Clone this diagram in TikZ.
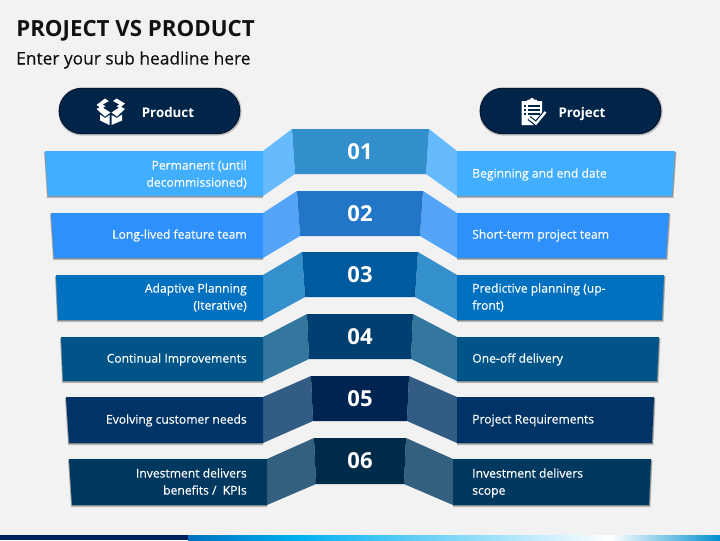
\documentclass[tikz,border=0pt]{standalone}
\usepackage{fontspec}
\setmainfont{Open Sans}
\newfontfamily\semifont[FakeBold=0.25]{Open Sans}
\definecolor{bgc}{HTML}{F2F2F2}
\definecolor{pillc}{HTML}{002549}
\definecolor{pilld}{HTML}{001830}
\definecolor{titlec}{HTML}{111111}
\definecolor{band1}{HTML}{41AEFF}\definecolor{side1}{HTML}{66BBFF}\definecolor{cen1}{HTML}{338ECC}
\definecolor{band2}{HTML}{2E90FA}\definecolor{side2}{HTML}{54A5FA}\definecolor{cen2}{HTML}{2176C8}
\definecolor{band3}{HTML}{0070C0}\definecolor{side3}{HTML}{3390CC}\definecolor{cen3}{HTML}{005A9E}
\definecolor{band4}{HTML}{005488}\definecolor{side4}{HTML}{33779F}\definecolor{cen4}{HTML}{003F6F}
\definecolor{band5}{HTML}{003366}\definecolor{side5}{HTML}{335C85}\definecolor{cen5}{HTML}{002451}
\definecolor{band6}{HTML}{00385F}\definecolor{side6}{HTML}{33607F}\definecolor{cen6}{HTML}{002A4A}
\tikzset{
  bandtext/.style={text=white,font=\fontsize{9.1pt}{12.8pt}\semifont,inner sep=0pt},
  numtext/.style={text=white,font=\fontsize{16.5pt}{18pt}\selectfont\bfseries,inner sep=0pt},
  pill/.style={fill=pillc,draw=pilld,line width=0.8pt,rounded corners=17pt,minimum width=135.5pt,minimum height=34pt,inner sep=0pt},
  pilltext/.style={text=white,font=\fontsize{10pt}{12pt}\selectfont\bfseries,inner sep=0pt},
  softshadow/.style={fill=black,opacity=0.22,draw=none},
  icon/.style={fill=white,draw=none},
  iconcut/.style={draw=pillc,line width=0.8pt}
}
\begin{document}
\begin{tikzpicture}[x=0.75pt,y=-0.75pt]
\useasboundingbox (0,0) rectangle (720,540);
\fill[bgc] (0,0) rectangle (720,540);
% footer bar
\fill[color={rgb,255:red,0;green,31;blue,96}] (0,535) rectangle (188,540);
\shade[left color={rgb,255:red,0;green,112;blue,192},right color={rgb,255:red,0;green,176;blue,240},draw=none] (188,535) rectangle (298,540);
\shade[left color={rgb,255:red,0;green,176;blue,240},right color=white,draw=none] (298,535) rectangle (610,540);
\shade[left color=white,right color={rgb,255:red,0;green,144;blue,208},draw=none] (610,535) rectangle (720,540);
% title
\node[anchor=west,inner sep=0pt,text=titlec,font=\fontsize{16.7pt}{20pt}\selectfont\bfseries] (title) at (16,30.5) {PROJECT VS PRODUCT};
\node[anchor=west,inner sep=0pt,text=titlec,font=\fontsize{13pt}{15pt}\semifont] (subtitle) at (16,60) {Enter your sub headline here};
% rows
\foreach \n/\ct/\cb/\ctl/\cbl/\ctr/\cbr/\bt/\bb/\ltl/\lbl/\ix/\rtr/\rbr in {
 1/129/174/292/295/429/426/151/196/45/48/263/675/672,
 2/191/236/297/300/423/420/213/258/51/54/263/669/666,
 3/252/297/302/305/418/415/275/320/56/58/263/664/662,
 4/314/359/307/309/413/411/337/381/61/63/263/659/657,
 5/376/421/311/313/409/407/397/443/66/69/263/654/652,
 6/438/484/314/316/406/404/459/505/69/72/267/651/649}
{
  \pgfmathsetmacro{\jx}{720-\ix}
  \fill[softshadow] (\ltl-1,\bt+1) -- (\ix,\bt+1) -- (\ix,\bb+2) -- (\lbl-1,\bb+2) -- cycle;
  \fill[softshadow] (\ltl-0.5,\bt+1) -- (\ix,\bt+1) -- (\ix,\bb+1) -- (\lbl-0.5,\bb+1) -- cycle;
  \fill[softshadow] (\jx,\bt+1) -- (\rtr+1.5,\bt+1) -- (\rbr+1.5,\bb+2) -- (\jx,\bb+2) -- cycle;
  \fill[softshadow] (\jx,\bt+1) -- (\rtr+0.8,\bt+1) -- (\rbr+0.8,\bb+1) -- (\jx,\bb+1) -- cycle;
  \fill[side\n] (\ix,\bt) -- (\ctl,\ct) -- (\cbl,\cb) -- (\ix,\bb) -- cycle;
  \fill[side\n] (\jx,\bt) -- (\ctr,\ct) -- (\cbr,\cb) -- (\jx,\bb) -- cycle;
  \fill[band\n] (\ltl,\bt) -- (\ix,\bt) -- (\ix,\bb) -- (\lbl,\bb) -- cycle;
  \fill[band\n] (\jx,\bt) -- (\rtr,\bt) -- (\rbr,\bb) -- (\jx,\bb) -- cycle;
  \fill[cen\n] (\ctl,\ct) -- (\ctr,\ct) -- (\cbr,\cb) -- (\cbl,\cb) -- cycle;
  \node[numtext] (num\n) at (360,{(\ct+\cb)/2}) {0\n};
}
% left labels
\node[bandtext,anchor=east,align=right] (l1) at (247,174.5) {Permanent (until\\decommissioned)};
\node[bandtext,anchor=east,align=right] (l2) at (247,235.5) {Long-lived feature team};
\node[bandtext,anchor=east,align=right] (l3) at (247,297.5) {Adaptive Planning\\(Iterative)};
\node[bandtext,anchor=east,align=right] (l4) at (247,359.5) {Continual Improvements};
\node[bandtext,anchor=east,align=right] (l5) at (247,420.5) {Evolving customer needs};
\node[bandtext,anchor=east,align=right] (l6) at (247,481.5) {Investment delivers\\benefits /\ \ KPIs};
% right labels
\node[bandtext,anchor=west,align=left] (r1) at (472,174.5) {Beginning and end date};
\node[bandtext,anchor=west,align=left] (r2) at (472,235.5) {Short-term project team};
\node[bandtext,anchor=west,align=left] (r3) at (472,297.5) {Predictive planning (up-\\front)};
\node[bandtext,anchor=west,align=left] (r4) at (472,359.5) {One-off delivery};
\node[bandtext,anchor=west,align=left] (r5) at (472,420.5) {Project Requirements};
\node[bandtext,anchor=west,align=left] (r6) at (472,483) {Investment delivers\\scope};
% pills
\fill[black,opacity=0.2,rounded corners=17pt] (58.5,87.5) rectangle (241.5,135.5);
\fill[black,opacity=0.2,rounded corners=17pt] (479.5,87.5) rectangle (662.5,135.5);
\node[pill] (prodpill) at (149.5,111) {};
\node[pill] (projpill) at (570.5,111) {};
\node[pilltext] (prodtext) at (168,112) {Product};
\node[pilltext] (projtext) at (582,114) {Project};
% box icon
\fill[icon] (96.5,105) -- (105,98.5) -- (111,102.5) -- (102,108.5) -- cycle;
\fill[icon] (125,103.5) -- (116.5,98.5) -- (111,102.5) -- (119.5,108) -- cycle;
\fill[icon] (96.5,109) -- (101,106.5) -- (110.5,112.5) -- (105,116.5) -- cycle;
\fill[icon] (125,109) -- (120.5,106.5) -- (111.5,112.5) -- (117,116.5) -- cycle;
\fill[icon] (100,114.5) -- (105,118) -- (109.5,115) -- (109.5,125) -- (100,120.5) -- cycle;
\fill[icon] (122,114.5) -- (117,118) -- (111.5,115) -- (111.5,125) -- (122,120.5) -- cycle;
\fill[pillc] (103,104.5) -- (111,100) -- (119,104.5) -- (111,109.5) -- cycle;
% clipboard icon
\fill[icon] (521.5,101) -- (542,101) -- (542,118) -- (534,125) -- (521.5,125) -- cycle;
\fill[icon] (526.5,101) -- (528,99.5) -- (530,99.5) -- (531,98) -- (533,98) -- (534,99.5) -- (536,99.5) -- (537.5,101) -- (537.5,103.5) -- (526.5,103.5) -- cycle;
\foreach \yy in {106,110,114}{
  \draw[iconcut] (524,\yy) -- (526,\yy);
  \draw[iconcut] (527.5,\yy) -- (539.5,\yy);
}
\draw[pillc,line width=3.6pt] (529,118) -- (536,123.5) -- (545.5,112);
\draw[white,line width=1.8pt] (529,118) -- (536,123.5) -- (545.5,112);
\end{tikzpicture}
\end{document}
